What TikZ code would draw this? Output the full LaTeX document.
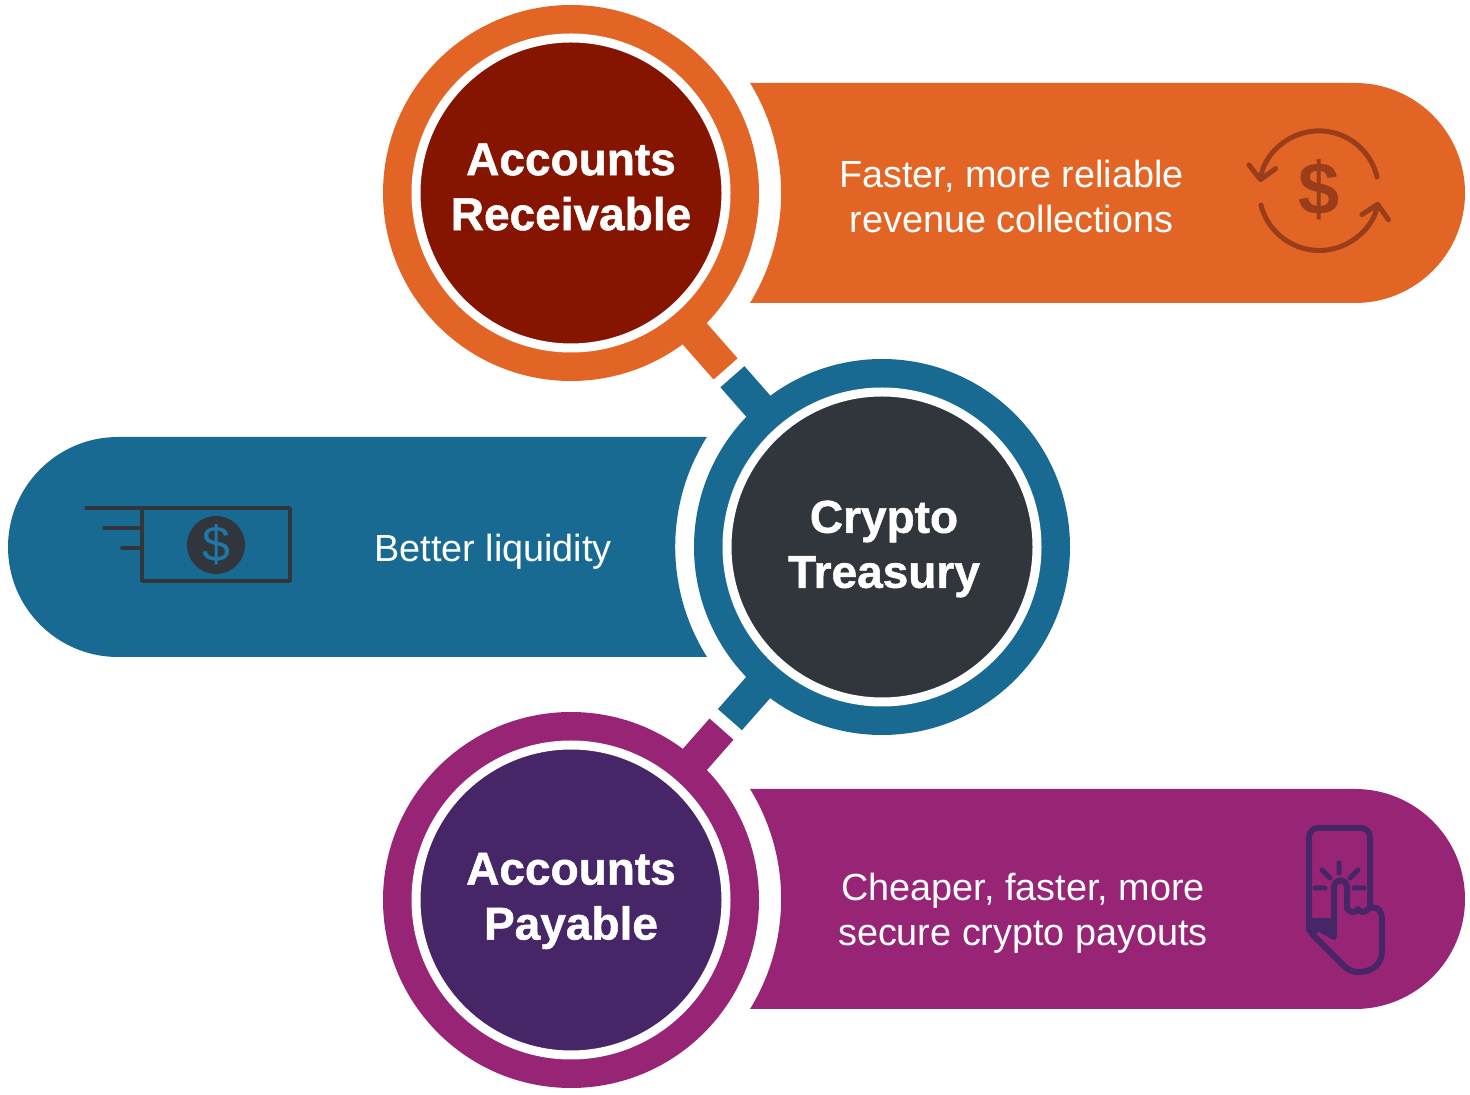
\documentclass[tikz,border=0pt]{standalone}
\usepackage{fontspec}
\setmainfont{Liberation Sans}
\newfontfamily\titlefont[BoldFeatures={FakeBold=1.1}]{Liberation Sans}
\usetikzlibrary{arrows.meta,calc}
\definecolor{rcvorange}{HTML}{E36526}
\definecolor{rcvred}{HTML}{851500}
\definecolor{rcvicon}{HTML}{9A3D1B}
\definecolor{trsblue}{HTML}{186A93}
\definecolor{trsslate}{HTML}{31353C}
\definecolor{trsdollar}{HTML}{2076A6}
\definecolor{paypurple}{HTML}{982476}
\definecolor{payviolet}{HTML}{472668}

\begin{document}
\begin{tikzpicture}[
  x=1pt, y=1pt,
  ring/.style={circle, fill=#1, inner sep=0pt, minimum size=376pt},
  core/.style={circle, fill=#1, draw=white, line width=9pt, inner sep=0pt,
               minimum size=310pt},
  title/.style={align=center, text=white, inner sep=0pt,
               font=\fontsize{46}{55}\selectfont\titlefont\bfseries},
  stub/.style={draw=#1, line width=32pt},
  note/.style={align=center, text=white, inner sep=0pt,
               font=\fontsize{37.8}{45}\selectfont},
  glyph/.style={line width=#1, line cap=round, line join=round},
  barb/.style={-{Straight Barb[length=13pt,width=27pt,round]}},
]
\useasboundingbox (0,0) rectangle (1470,1095);

% ---- bands, each one hollowed round its circle ------------------------------
\fill[rcvorange] (750,1012) -- (1355,1012) arc[start angle=90, end angle=-90, radius=110]
      -- (750,792) arc[start angle=-31.6, end angle=31.6, radius=210] -- cycle;
\fill[trsblue] (707,658) -- (118,658) arc[start angle=90, end angle=270, radius=110]
      -- (707,438) arc[start angle=212.2, end angle=147.8, radius=206.7] -- cycle;
\fill[paypurple] (750,306) -- (1355,306) arc[start angle=90, end angle=-90, radius=110]
      -- (750,86) arc[start angle=-31.6, end angle=31.6, radius=210] -- cycle;

% ---- rings and the stubs between them ---------------------------------------
\node[ring=rcvorange] (recvring) at (571,902) {};
\node[ring=trsblue]   (treasring) at (882,548) {};
\node[ring=paypurple] (payring) at (571,195) {};

\draw[stub=rcvorange] (recvring.center) -- ($(recvring)!0.497!(treasring)$);
\draw[stub=trsblue]   (treasring.center) -- ($(recvring)!0.519!(treasring)$);
\draw[stub=trsblue]   (treasring.center) -- ($(payring)!0.511!(treasring)$);
\draw[stub=paypurple] (payring.center) -- ($(payring)!0.484!(treasring)$);

\node[core=rcvred]    (recv) at (recvring) {};
\node[core=trsslate]  (treas) at (treasring) {};
\node[core=payviolet] (pay) at (payring) {};

\node[title] (recvtitle) at (571,908) {Accounts\\Receivable};
\node[title] (treastitle) at (884,546) {Crypto\\Treasury};
\node[title] (paytitle) at (571,194) {Accounts\\Payable};

% ---- band texts --------------------------------------------------------------
\node[note] (recvnote) at (1011.5,899) {Faster, more reliable\\revenue collections};
\node[note] (treasnote) at (493,543) {Better liquidity};
\node[note] (paynote) at (1023,182) {Cheaper, faster, more\\secure crypto payouts};

% ---- circling dollar ----------------------------------------------------------
\draw[rcvicon, glyph=5pt, barb] (1377,918) arc[start angle=13, end angle=172, radius=59.5];
\draw[rcvicon, glyph=5pt, barb] (1261,890) arc[start angle=194, end angle=349, radius=60];
\node[text=rcvicon, inner sep=0pt, font=\fontsize{74}{74}\selectfont\bfseries] (recvdollar) at (1319,905) {\$};

% ---- banknote -----------------------------------------------------------------
\draw[trsslate, glyph=3.5pt] (86,587) -- (290,587) -- (290,514) -- (142,514) -- (142,587);
\draw[trsslate, glyph=3.5pt] (104,567) -- (142,567) (122,547) -- (142,547);
\node[circle, fill=trsslate, minimum size=58pt, inner sep=0pt, text=trsdollar,
      font=\fontsize{50}{50}\selectfont] (treasdollar) at (216,550) {\$};

% ---- tapping hand --------------------------------------------------------------
\draw[payviolet, glyph=6pt, rounded corners=9pt] (1309,165) -- (1309,267) -- (1370,267) -- (1370,188);
\fill[payviolet] (1307,177) -- (1335,177) -- (1335,157) -- (1318,168) -- (1311,163) -- (1307,170) -- cycle;
\draw[payviolet, glyph=6pt] (1334,158) -- (1334,208) arc[start angle=180, end angle=0, radius=6.5]
      -- (1347,186) .. controls (1352,182) and (1355,182) .. (1358,186)
      .. controls (1361,182) and (1365,182) .. (1368,186)
      .. controls (1376,190) and (1382,186) .. (1382,175)
      -- (1382,145) .. controls (1382,130) and (1372,123) .. (1358,123)
      .. controls (1350,123) and (1346,127) .. (1342,131)
      -- (1312,161) -- (1318,167) -- cycle;
\draw[payviolet, glyph=5pt] (1339,232) -- (1339,222) (1322,225) -- (1330,217) (1358,225) -- (1350,217)
      (1315,207) -- (1325,207) (1354,207) -- (1364,207);
\end{tikzpicture}
\end{document}
